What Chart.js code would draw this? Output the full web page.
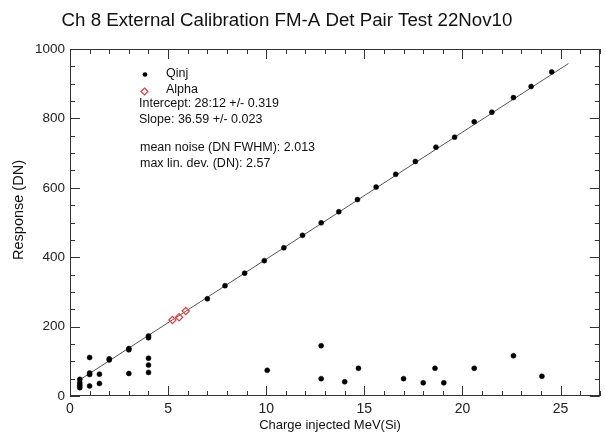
<!DOCTYPE html>
<html>
<head>
<meta charset="utf-8">
<script src="https://cdn.jsdelivr.net/npm/chart.js@4/dist/chart.umd.min.js"></script>
<style>
  html, body { margin: 0; padding: 0; background: #fff; }
  #wrap { width: 605px; height: 433px; }
</style>
</head>
<body>
<div id="wrap"><canvas id="c" width="605" height="433"></canvas></div>
<script>
// ---- data ----
const titleText = "Ch 8 External Calibration FM-A Det Pair Test 22Nov10";
const xAxisTitle = "Charge injected MeV(Si)";
const yAxisTitle = "Response (DN)";

const xTickLabels = [0, 5, 10, 15, 20, 25];
const yTickLabels = [0, 200, 400, 600, 800, 1000];

// Qinj points (charge injected, response)
const qinjX = [0.5, 0.5, 0.5, 0.5, 1, 1, 1, 1, 1.5, 1.5, 2, 2, 3, 3, 3, 4, 4, 4, 4, 4,
  7, 7.9, 8.9, 9.9, 10.9, 11.85, 12.8, 13.7, 14.65, 15.6, 16.6, 17.6, 18.65, 19.6, 20.6, 21.5, 22.6, 23.5, 24.55,
  10.05, 12.8, 12.8, 14.0, 14.7, 17.0, 18.0, 18.6, 19.05, 20.6, 22.6, 24.05];
const qinjY = [48, 38, 31, 24, 62, 66, 111, 29, 63, 36, 107, 104, 137, 133, 65, 173, 168, 109, 89, 68,
  280, 318, 354, 390, 427, 463, 499, 531, 566, 602, 639, 676, 717, 746, 790, 818, 860, 892, 934,
  74, 145, 50, 41, 80, 50, 38, 80, 38, 80, 116, 57];

// Alpha points
const alphaX = [5.22, 5.56, 5.9];
const alphaY = [219, 227, 245];

// Fit line end points
const fitX = [0.4, 25.4];
const fitY = [43, 958];

const annotations = [
  "Intercept: 28:12 +/- 0.319",
  "Slope: 36.59 +/- 0.023",
  "mean noise (DN FWHM): 2.013",
  "max lin. dev. (DN): 2.57"
];
const legendLabels = ["Qinj", "Alpha"];

// ---- build ----
const FONT = "'Liberation Sans', Arial, Helvetica, sans-serif";
const toPts = (xs, ys) => xs.map((x, i) => ({ x: x, y: ys[i] }));

const framePlugin = {
  id: 'frame',
  afterDraw(chart) {
    const ctx = chart.ctx;
    const a = chart.chartArea;
    const xs = chart.scales.x, ys = chart.scales.y;
    ctx.save();
    ctx.strokeStyle = '#333';
    ctx.lineWidth = 1;
    ctx.strokeRect(Math.round(a.left) + 0.5, Math.round(a.top) + 0.5,
      Math.round(a.right - a.left) - 1, Math.round(a.bottom - a.top) - 1);
    ctx.beginPath();
    // x ticks (minor every 1, major every 5)
    for (let v = xs.min; v <= xs.max; v += 1) {
      const px = Math.round(xs.getPixelForValue(v)) + 0.5;
      const len = (v % 5 === 0) ? 10 : 5;
      ctx.moveTo(px, a.bottom); ctx.lineTo(px, a.bottom - len);
      ctx.moveTo(px, a.top); ctx.lineTo(px, a.top + len);
    }
    // y ticks (minor every 50, major every 200)
    for (let v = ys.min; v <= ys.max; v += 50) {
      const py = Math.round(ys.getPixelForValue(v)) + 0.5;
      const len = (v % 200 === 0) ? 10 : 5;
      ctx.moveTo(a.left, py); ctx.lineTo(a.left + len, py);
      ctx.moveTo(a.right, py); ctx.lineTo(a.right - len, py);
    }
    ctx.stroke();

    // title
    ctx.fillStyle = '#111';
    ctx.textAlign = 'center';
    ctx.textBaseline = 'middle';
    ctx.font = '18.7px ' + FONT;
    ctx.fillText(titleText, 287, 21);

    // axis titles
    ctx.font = '13px ' + FONT;
    ctx.fillText(xAxisTitle, 330, 425);
    ctx.save();
    ctx.translate(19, 210);
    ctx.rotate(-Math.PI / 2);
    ctx.font = '14.5px ' + FONT;
    ctx.fillText(yAxisTitle, 0, 0);
    ctx.restore();

    // legend
    ctx.textAlign = 'left';
    ctx.font = '12.5px ' + FONT;
    ctx.fillText(legendLabels[0], 166, 74);
    ctx.fillText(legendLabels[1], 166, 90);
    ctx.fillStyle = '#000';
    ctx.beginPath(); ctx.arc(145, 74.5, 2.3, 0, Math.PI * 2); ctx.fill();
    ctx.strokeStyle = '#e0403f';
    ctx.lineWidth = 1.2;
    ctx.beginPath();
    ctx.moveTo(144.5, 88); ctx.lineTo(148, 91.5); ctx.lineTo(144.5, 95); ctx.lineTo(141, 91.5); ctx.closePath();
    ctx.stroke();

    // annotations
    ctx.fillStyle = '#111';
    ctx.font = '12.5px ' + FONT;
    ctx.fillText(annotations[0], 139, 104);
    ctx.fillText(annotations[1], 139, 120);
    ctx.fillText(annotations[2], 140, 148);
    ctx.fillText(annotations[3], 140, 164);
    ctx.restore();
  }
};

new Chart(document.getElementById('c'), {
  type: 'scatter',
  data: {
    datasets: [
      {
        label: legendLabels[0],
        data: toPts(qinjX, qinjY),
        pointStyle: 'circle',
        pointRadius: 2.5,
        pointBackgroundColor: '#000',
        pointBorderColor: '#000',
        pointBorderWidth: 0.5,
        showLine: false
      },
      {
        label: legendLabels[1],
        data: toPts(alphaX, alphaY),
        pointStyle: 'rectRot',
        pointRadius: 3.6,
        pointBackgroundColor: 'rgba(255,255,255,0)',
        pointBorderColor: '#e0403f',
        pointBorderWidth: 1.2,
        showLine: false
      },
      {
        label: 'fit',
        data: toPts(fitX, fitY),
        type: 'line',
        showLine: true,
        borderColor: '#555',
        borderWidth: 1,
        pointRadius: 0,
        fill: false
      }
    ]
  },
  options: {
    responsive: false,
    animation: false,
    devicePixelRatio: 1,
    layout: { padding: { left: 0, right: 3, top: 49, bottom: 0 } },
    plugins: {
      legend: { display: false },
      tooltip: { enabled: false },
      title: { display: false }
    },
    scales: {
      x: {
        type: 'linear',
        min: 0, max: 27,
        grid: { display: false, drawTicks: false },
        border: { display: false },
        afterBuildTicks: (s) => { s.ticks = xTickLabels.map(v => ({ value: v })); },
        afterFit: (s) => { s.height = 37; },
        ticks: {
          color: '#222',
          padding: 5,
          maxRotation: 0,
          callback: (v) => String(v),
          font: { family: FONT, size: 14 }
        }
      },
      y: {
        type: 'linear',
        min: 0, max: 1000,
        grid: { display: false, drawTicks: false },
        border: { display: false },
        afterBuildTicks: (s) => { s.ticks = yTickLabels.map(v => ({ value: v })); },
        afterFit: (s) => { s.width = 70; },
        ticks: {
          color: '#222',
          padding: 5,
          callback: (v) => String(v),
          font: { family: FONT, size: 13.5 }
        }
      }
    }
  },
  plugins: [framePlugin]
});
</script>
</body>
</html>
